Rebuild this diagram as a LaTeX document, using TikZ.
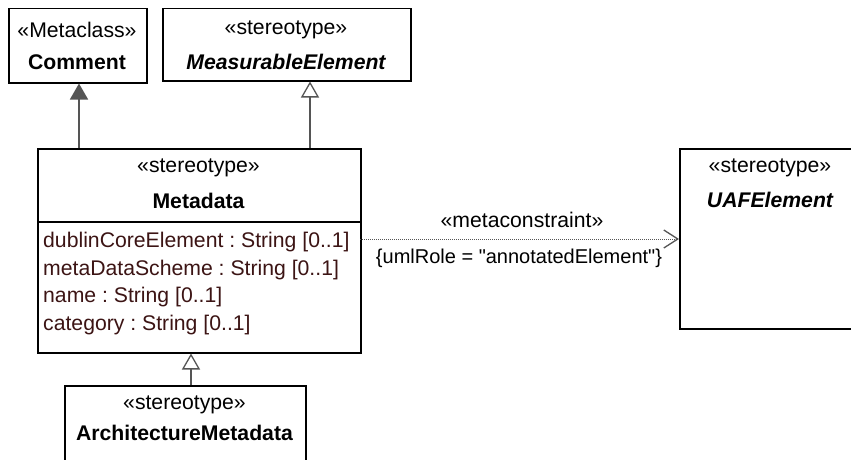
\documentclass[tikz,border=0pt]{standalone}
\usepackage{fontspec}
\setmainfont{Liberation Sans}
\newfontfamily\nolig{Liberation Sans}[Ligatures=TeXOff]
\usetikzlibrary{arrows.meta}
\definecolor{attr}{RGB}{60,20,20}
\definecolor{conn}{RGB}{85,85,85}
\newcommand{\uafont}{\fontsize{21.2}{25}\selectfont\frenchspacing}
\tikzset{
  box/.style={draw=black, line width=1.5pt, fill=white, rectangle, inner sep=0pt, anchor=north west},
  txt/.style={inner sep=0pt, font=\uafont},
  attrtxt/.style={inner sep=0pt, anchor=base west, text=attr, font=\uafont},
  gen/.style={draw=conn, line width=1.5pt, -{Triangle[open, width=18pt, length=16pt, line width=1.3pt]}},
  genf/.style={draw=conn, line width=1.5pt, -{Triangle[width=18pt, length=16pt]}},
  dep/.style={draw=conn, line width=1pt, densely dotted, -{Straight Barb[width=18pt, length=14pt, line width=1.3pt]}}
}
\begin{document}
\begin{tikzpicture}[x=1pt,y=-1pt]
\useasboundingbox (0,0) rectangle (851,460);
% boxes
\node[box, minimum width=138, minimum height=74] (comment) at (8,8) {};
\node[box, minimum width=248, minimum height=72] (meas) at (162,8) {};
\node[box, minimum width=323, minimum height=204] (meta) at (37,148) {};
\node[box, minimum width=190, minimum height=180] (uaf) at (679,148) {};
\node[box, minimum width=241, minimum height=90] (arch) at (64,385) {};
\draw[black, line width=1.5pt] (37,222) coordinate (divl) -- (360,222) coordinate (divr);
% texts
\node[txt] (commentst) at (77,30) {«Metaclass»};
\node[txt, font=\uafont\bfseries] (commentnm) at (77,62) {Comment};
\node[txt] (measst) at (286,30) {«stereotype»};
\node[txt, font=\uafont\bfseries\itshape] (measnm) at (286,62) {MeasurableElement};
\node[txt] (metast) at (198.5,168) {«stereotype»};
\node[txt, font=\uafont\bfseries] (metanm) at (198.5,201) {Metadata};
\node[attrtxt] (a1) at (43,247) {dublinCoreElement : String [0..1]};
\node[attrtxt] (a2) at (43,275) {metaDataScheme : String [0..1]};
\node[attrtxt] (a3) at (43,302) {name : String [0..1]};
\node[attrtxt] (a4) at (43,330) {category : String [0..1]};
\node[txt] (uafst) at (770,168) {«stereotype»};
\node[txt, font=\uafont\bfseries\itshape] (uafnm) at (770,200) {UAFElement};
\node[txt] (archst) at (184.5,405) {«stereotype»};
\node[txt, font=\uafont\bfseries] (archnm) at (184.5,433) {ArchitectureMetadata};
% connectors
\draw[genf] (meta.north west) ++(42,0) coordinate (c1) -- (c1 |- comment.south);
\draw[gen] (meta.north west) ++(273,0) coordinate (c2) -- (c2 |- meas.south);
\draw[gen] (arch.north west) ++(127,0) coordinate (c3) -- (c3 |- meta.south);
\coordinate (d1) at (360,239);
\draw[dep] (d1) -- (d1 -| uaf.west);
\node[txt] (mc) at (522,220) {«metaconstraint»};
\node[txt, font=\fontsize{20}{24}\selectfont\nolig] (role) at (519,258) {\{umlRole = "annotatedElement"\}};
\end{tikzpicture}
\end{document}
